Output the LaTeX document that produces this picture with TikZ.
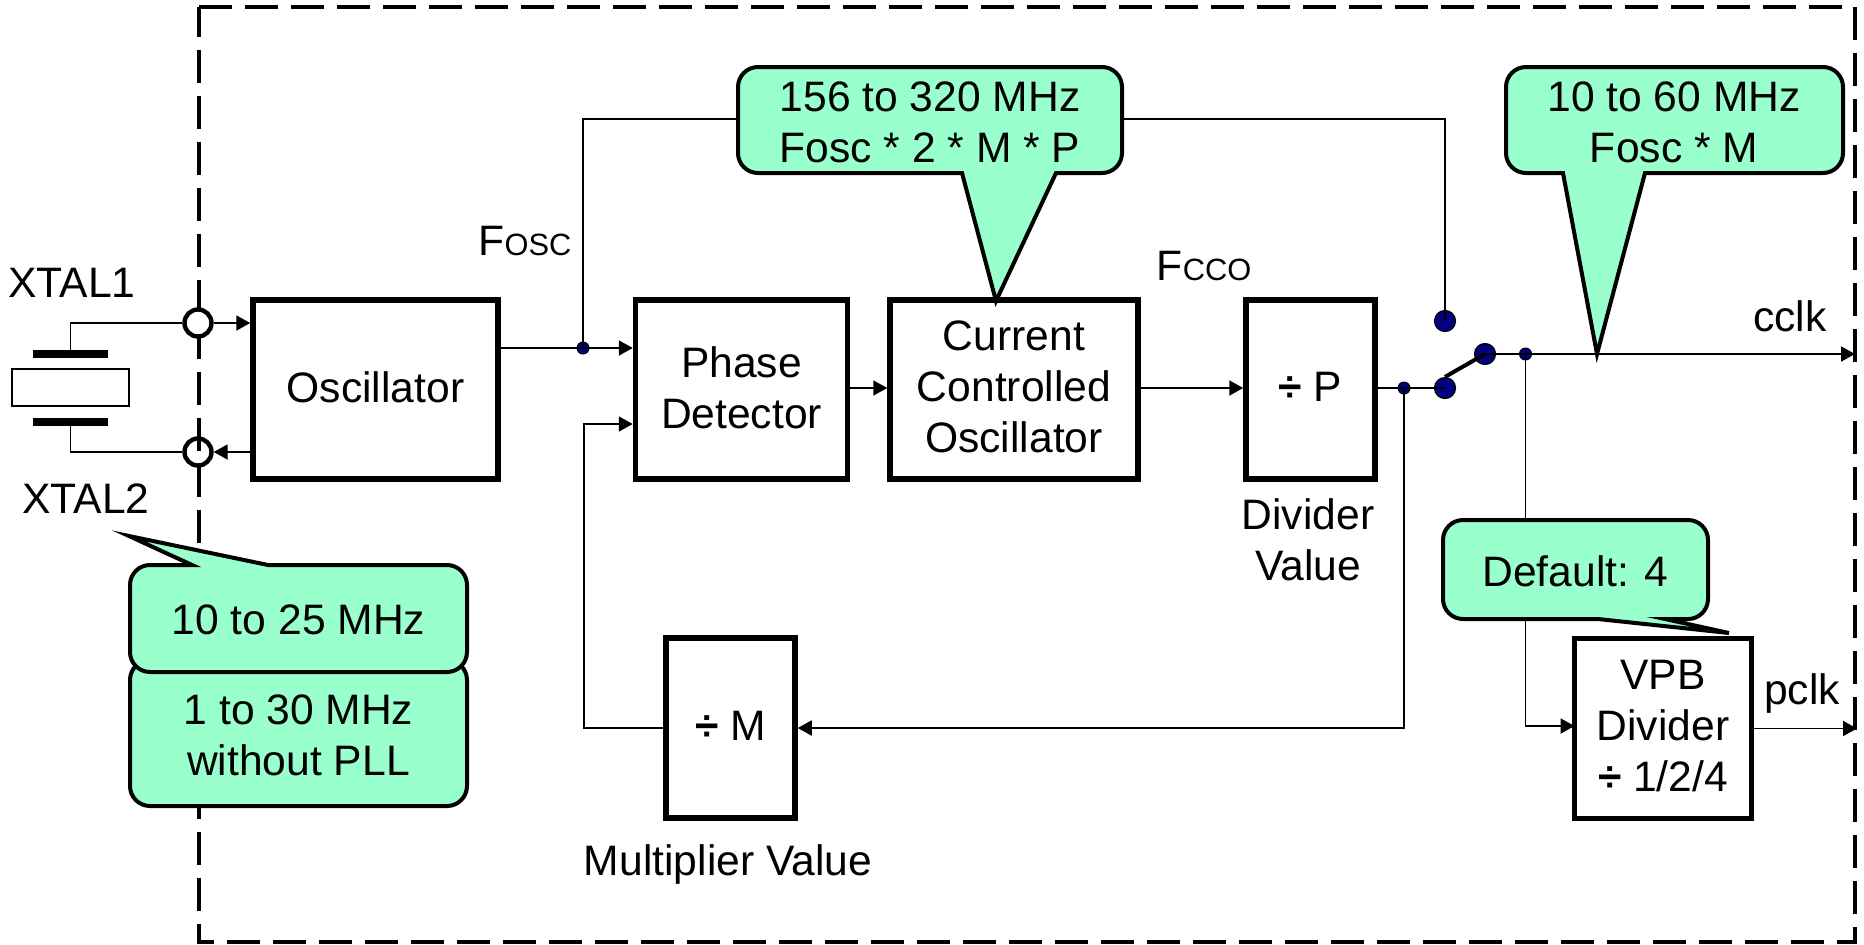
\documentclass[tikz,border=0pt]{standalone}
\usepackage{fontspec}
\setmainfont{Liberation Sans}
\usetikzlibrary{arrows.meta}
\newcommand{\smcap}[1]{{\fontsize{15.4}{18}\selectfont #1}}
\newcommand{\lift}{\rule[-2.4pt]{0pt}{0pt}}
\tikzset{
  sz/.style 2 args={minimum width=#1*0.5pt, minimum height=#2*0.5pt},
  label/.style={inner sep=0pt, align=center, font=\fontsize{21.3}{25.5}\selectfont},
  blockbox/.style={label, draw=black, line width=2.75pt, fill=white},
  wire/.style={line width=0.95pt, draw=black},
  feed/.style={wire, -{Triangle[length=7pt,width=7.5pt]}},
  bigdot/.style={circle, draw=black, line width=0.6pt, fill=navydot, inner sep=0pt, minimum size=10.5pt},
  smalldot/.style={circle, draw=black, line width=0.5pt, fill=navydot, inner sep=0pt, minimum size=6pt},
  pin/.style={circle, draw=black, line width=2.2pt, inner sep=0pt, minimum size=13.5pt},
  callout/.style={draw=black, line width=2pt, fill=mint, line join=miter},
  calltext/.style={label},
  plate/.style={fill=black, inner sep=0pt},
}
\definecolor{mint}{RGB}{153,255,204}
\definecolor{navydot}{RGB}{0,0,128}
\def\rr{10pt}
\begin{document}
\begin{tikzpicture}[x=0.5pt,y=-0.5pt]
\useasboundingbox (0,0) rectangle (1864,944);
% chip boundary
\draw[line width=2pt, dash pattern=on 16.5pt off 6.5pt] (199,7) -- (1855,7) -- (1855,942) -- (199,942) -- cycle;
% crystal
\node[draw=black, line width=0.8pt, fill=white, sz={117}{37}, inner sep=0pt] (crystal) at (70.5,387.5) {};
\node[plate, sz={75}{8}] (plateA) at (70.5,354) {};
\node[plate, sz={75}{8}] (plateB) at (70.5,422) {};
% blocks
\node[blockbox, sz={245}{179}] (osc) at (375.5,389.5) {Oscillator\lift};
\node[blockbox, sz={212}{179}] (phase) at (741.5,389.5) {Phase\\Detector\lift};
\node[blockbox, sz={248}{179}] (cco) at (1014,389.5) {Current\\Controlled\\Oscillator\lift};
\node[blockbox, sz={129}{179}] (divp) at (1310.5,389.5) {\textbf{÷} P\lift};
\node[blockbox, sz={129}{180}] (divm) at (730.5,728) {\textbf{÷} M\lift};
\node[blockbox, sz={177}{180}] (vpb) at (1663,728.5) {VPB\\Divider\\\textbf{÷} 1/2/4\lift};
% pins
\node[pin, fill=white] (xtalA) at (198,323) {};
\node[pin] (xtalB) at (198,452) {};
% junctions and switch
\node[smalldot] (jfosc) at (583,348) {};
\node[smalldot] (jdiv) at (1404,388) {};
\node[smalldot] (jout) at (1525.5,354) {};
\node[bigdot] (swtop) at (1445,321) {};
\node[bigdot] (swlow) at (1445,388) {};
\node[bigdot] (swout) at (1485,354) {};
% callouts
\draw[callout] (996,301) -- (1056,173) [rounded corners=\rr] -- (1122,173) -- (1122,67) -- (738,67) -- (738,173) [sharp corners] -- (962,173) -- cycle;
\node[calltext, sz={384}{106}] (calA) at (930,122.5) {156 to 320 MHz\\Fosc * 2 * M * P};
\draw[callout] (1597,354) -- (1645,173) [rounded corners=\rr] -- (1843,173) -- (1843,67) -- (1506,67) -- (1506,173) [sharp corners] -- (1563,173) -- cycle;
\node[calltext, sz={337}{106}] (calB) at (1674,122.5) {10 to 60 MHz\\Fosc * M};
\draw[callout, rounded corners=\rr] (130,660) rectangle (467,806);
\node[calltext, sz={337}{146}] (calD) at (298.5,735) {1 to 30 MHz\\without PLL};
\draw[callout, miter limit=20] (129,536) -- (268,565) [rounded corners=\rr] -- (467,565) -- (467,672) -- (130,672) -- (130,565) [sharp corners] -- (192,565) -- cycle;
\node[calltext, sz={337}{107}] (calC) at (298.5,620) {10 to 25 MHz};
\draw[callout] (1729,633) -- (1665,619) [rounded corners=\rr] -- (1708,619) -- (1708,520) -- (1443,520) -- (1443,619) [sharp corners] -- (1598,619) -- cycle;
\node[calltext, sz={265}{99}] (calE) at (1575.5,571) {Default: 4};
% free labels
\node[label] (lblA) at (72,283) {XTAL1};
\node[label] (lblB) at (86,499) {XTAL2};
\node[label] (lblC) at (525,241) {F\smcap{OSC}};
\node[label] (lblD) at (1204,266) {F\smcap{CCO}};
\node[label] (lblE) at (1308,540) {Divider\\Value};
\node[label] (lblF) at (728,864) {Multiplier Value};
\node[label] (lblG) at (1790,316) {cclk};
\node[label] (lblH) at (1802,693) {pclk};
% free ends
\coordinate (cclkEnd) at (1855,354);
\coordinate (pclkEnd) at (1857,728.5);
\coordinate (vpbIn) at (1574.5,726);
\coordinate (jback) at (584,424);
% connectors
\draw[wire] (plateA.north) |- (xtalA.west);
\draw[feed] (xtalA.east) -- (osc.west |- xtalA);
\draw[wire] (plateB.south) |- (xtalB.west);
\draw[feed] (osc.west |- xtalB) -- (xtalB.east);
\draw[wire] (osc.east |- jfosc) -- (jfosc.center);
\draw[feed] (jfosc.center) -- (phase.west |- jfosc);
\draw[wire] (jfosc.center) |- (calA.west |- 0,119);
\draw[wire] (calA.east |- 0,119) -| (swtop.center);
\draw[feed] (phase.east |- jdiv) -- (cco.west |- jdiv);
\draw[feed] (cco.east |- jdiv) -- (divp.west |- jdiv);
\draw[wire] (divp.east |- jdiv) -- (swlow.center);
\draw[line width=2pt, draw=black] (swlow.north) -- (swout.center);
\draw[wire] (swout.center) -- (jout.center);
\draw[feed] (jout.center) -- (cclkEnd);
\draw[wire] (jout.center) -- (jout |- calE.north);
\draw[feed] (jout |- calE.south) |- (vpbIn);
\draw[feed] (vpb.east) -- (pclkEnd);
\draw[feed] (jdiv.center) |- (divm.east);
\draw[feed] (divm.west) -| (jback) -- (phase.west |- jback);
\end{tikzpicture}
\end{document}
